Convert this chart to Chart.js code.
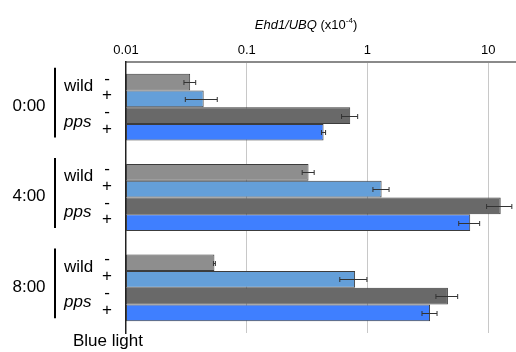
<!DOCTYPE html>
<html>
<head>
<meta charset="utf-8">
<script src="https://cdn.jsdelivr.net/npm/chart.js@4.4.1/dist/chart.umd.min.js"></script>
<style>
  html, body { margin: 0; padding: 0; background: #fff; }
  #wrap { width: 516px; height: 352px; }
</style>
</head>
<body>
<div id="wrap"><canvas id="ehdChart" width="516" height="352"></canvas></div>
<script>
const timePoints = ['0:00', '4:00', '8:00']
const tickValues = [0.01, 0.1, 1, 10]

// Ehd1/UBQ (x10^-4)
const wildDark = [0.034, 0.325, 0.054]
const wildBlue = [0.044, 1.31, 0.79]
const ppsDark = [0.72, 12.7, 4.64]
const ppsBlue = [0.433, 7.1, 3.3]

const wildDarkErr = [0.0038, 0.037, 0.001]
const wildBlueErr = [0.013, 0.2, 0.2]
const ppsDarkErr = [0.11, 3.0, 0.95]
const ppsBlueErr = [0.017, 1.4, 0.47]

const genotypes = ['wild', 'wild', 'pps', 'pps']
const lightMarks = ['-', '+', '-', '+']

const FONT = '"Liberation Sans", Arial, Helvetica, sans-serif'

const makeSet = (label, data, err, fill) => ({
  label, data, err,
  backgroundColor: fill,
  borderColor: '#3c3c3c',
  borderWidth: 1,
  borderSkipped: false,
  categoryPercentage: 0.74,
  barPercentage: 1.0
})

const errorBars = {
  id: 'errorBars',
  afterDatasetsDraw(chart) {
    const ctx = chart.ctx
    const xs = chart.scales.x
    ctx.save()
    ctx.strokeStyle = '#333'
    ctx.lineWidth = 1
    chart.data.datasets.forEach((ds, i) => {
      const meta = chart.getDatasetMeta(i)
      meta.data.forEach((bar, j) => {
        const v = ds.data[j], e = ds.err[j]
        const x1 = xs.getPixelForValue(Math.max(v - e, 0.0001))
        const x2 = xs.getPixelForValue(v + e)
        const y = Math.round(bar.y) + 0.5
        ctx.beginPath()
        ctx.moveTo(x1, y); ctx.lineTo(x2, y)
        ctx.moveTo(x1, y - 2.5); ctx.lineTo(x1, y + 2.5)
        ctx.moveTo(x2, y - 2.5); ctx.lineTo(x2, y + 2.5)
        ctx.stroke()
      })
    })
    ctx.restore()
  }
}

const sideLabels = {
  id: 'sideLabels',
  afterDraw(chart) {
    const ctx = chart.ctx
    const metas = chart.data.datasets.map((d, i) => chart.getDatasetMeta(i))
    ctx.save()
    ctx.fillStyle = '#000'
    timePoints.forEach((t, j) => {
      const bars = metas.map(m => m.data[j])
      const top = bars[0].y - bars[0].height / 2
      const bottom = bars[3].y + bars[3].height / 2
      const mid = (top + bottom) / 2

      ctx.font = '17px ' + FONT
      ctx.textAlign = 'center'
      ctx.textBaseline = 'middle'
      ctx.fillText(t, 29, mid - 1)

      ctx.strokeStyle = '#000'
      ctx.lineWidth = 2
      ctx.beginPath()
      ctx.moveTo(55, top - 6)
      ctx.lineTo(55, bottom - 3)
      ctx.stroke()

      ctx.textAlign = 'left'
      const b12 = (bars[0].y + bars[1].y) / 2
      const b34 = (bars[2].y + bars[3].y) / 2
      ctx.font = '17px ' + FONT
      ctx.fillText(genotypes[0], 64, b12 - 4)
      ctx.font = 'italic 17px ' + FONT
      ctx.fillText(genotypes[2], 64, b34 - 2)

      ctx.font = '17px ' + FONT
      ctx.textAlign = 'center'
      bars.forEach((b, k) => {
        ctx.fillText(lightMarks[k], 107, b.y - 3)
      })
    })

    // axis title with italic gene ratio
    ctx.textBaseline = 'middle'
    ctx.textAlign = 'left'
    ctx.font = 'italic 13px ' + FONT
    const part1 = 'Ehd1/UBQ'
    const part2 = ' (x10'
    const sup = '-4'
    const part3 = ')'
    const w1 = ctx.measureText(part1).width
    ctx.font = '13px ' + FONT
    const w2 = ctx.measureText(part2).width
    const w4 = ctx.measureText(part3).width
    ctx.font = '8px ' + FONT
    const w3 = ctx.measureText(sup).width
    let x = 306 - (w1 + w2 + w3 + w4) / 2
    const y = 25
    ctx.font = 'italic 13px ' + FONT
    ctx.fillText(part1, x, y); x += w1
    ctx.font = '13px ' + FONT
    ctx.fillText(part2, x, y); x += w2
    ctx.font = '8px ' + FONT
    ctx.fillText(sup, x, y - 4); x += w3
    ctx.font = '13px ' + FONT
    ctx.fillText(part3, x, y)

    ctx.font = '17px ' + FONT
    ctx.textBaseline = 'alphabetic'
    ctx.fillText('Blue light', 73, 346)
    ctx.restore()
  }
}

new Chart(document.getElementById('ehdChart'), {
  type: 'bar',
  data: {
    labels: timePoints,
    datasets: [
      makeSet('wild -', wildDark, wildDarkErr, '#8e8e8e'),
      makeSet('wild +', wildBlue, wildBlueErr, '#649fd9'),
      makeSet('pps -', ppsDark, ppsDarkErr, '#696969'),
      makeSet('pps +', ppsBlue, ppsBlueErr, '#3f7fff')
    ]
  },
  options: {
    indexAxis: 'y',
    responsive: false,
    animation: false,
    layout: { padding: { left: 126, right: 0, top: 0, bottom: 19 } },
    plugins: { legend: { display: false }, tooltip: { enabled: false } },
    scales: {
      x: {
        type: 'logarithmic',
        position: 'top',
        min: 0.01,
        max: 17,
        afterBuildTicks: s => { s.ticks = tickValues.map(v => ({ value: v })) },
        afterFit: s => { s.height = 62 },
        ticks: {
          color: '#000',
          font: { family: FONT, size: 13 },
          padding: 4,
          maxRotation: 0,
          autoSkip: false,
          callback: v => String(v)
        },
        grid: {
          color: ctx => ctx.tick && ctx.tick.value === 0.01 ? 'rgba(0,0,0,0)' : '#c8c8c8',
          lineWidth: 1,
          drawTicks: false
        },
        border: { color: '#8a8a8a', width: 2 }
      },
      y: {
        afterFit: s => { s.width = 0 },
        ticks: { display: false },
        grid: { display: false, drawTicks: false },
        border: { color: '#222', width: 1.5 }
      }
    }
  },
  plugins: [errorBars, sideLabels]
})
</script>
</body>
</html>
